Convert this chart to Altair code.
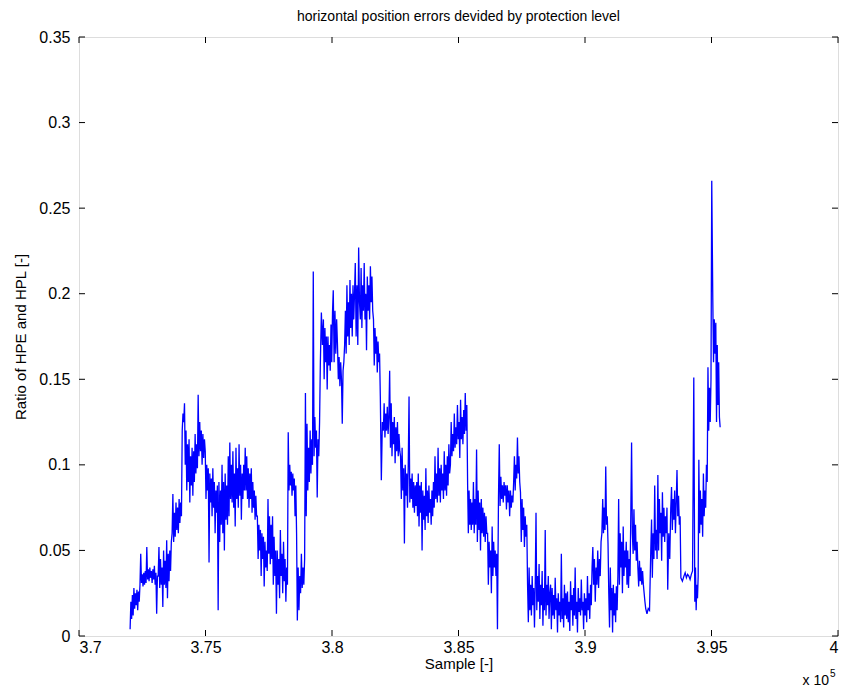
import altair as alt
import numpy as np
import pandas as pd

# Segment boundaries (sample index) and the values read within each segment
seg_bounds = [372020, 372410, 373130, 373680, 374080, 374200, 374710, 374990, 375500, 375900,
              376570, 377050, 377680, 378270, 378630, 378950, 379260, 379540, 379660, 380050,
              380250, 380530, 380920, 381120, 381640, 381910, 382030, 382310, 382710, 383380,
              384010, 384680, 385360, 385590, 386150, 386540, 386580, 387180, 387450, 387730,
              388640, 390340, 390700, 390940, 391330, 391810, 392090, 392400, 392600, 392880,
              393270, 393390, 393790, 393910, 394300, 394340, 394500, 394860, 395010, 395050,
              395170, 395370]

seg_values = [
    [0.004, 0.020, 0.010, 0.024, 0.012, 0.028, 0.016, 0.025, 0.018, 0.027, 0.015, 0.026, 0.020],
    [0.030, 0.048, 0.031, 0.036, 0.029, 0.037, 0.030, 0.038, 0.031, 0.052, 0.033, 0.039, 0.032,
     0.040, 0.034, 0.038, 0.031, 0.039, 0.033, 0.041, 0.030, 0.037, 0.013, 0.035],
    [0.035, 0.052, 0.028, 0.045, 0.030, 0.040, 0.017, 0.050, 0.030, 0.044, 0.028, 0.056, 0.022,
     0.048, 0.032, 0.050, 0.038, 0.055],
    [0.060, 0.083, 0.055, 0.072, 0.058, 0.078, 0.062, 0.075, 0.060, 0.080, 0.066, 0.078, 0.070],
    [0.120, 0.130, 0.125, 0.136],
    [0.100, 0.120, 0.085, 0.112, 0.090, 0.115, 0.078, 0.105, 0.088, 0.110, 0.082, 0.108, 0.090,
     0.118, 0.095, 0.112, 0.098],
    [0.141, 0.105, 0.125, 0.108, 0.120, 0.100, 0.118, 0.104, 0.115],
    [0.108, 0.080, 0.100, 0.085, 0.098, 0.043, 0.095, 0.078, 0.092, 0.070, 0.098, 0.075, 0.090,
     0.060, 0.085, 0.072, 0.088],
    [0.015, 0.090, 0.055, 0.085, 0.065, 0.100, 0.060, 0.090, 0.050, 0.095, 0.068, 0.088, 0.065],
    [0.105, 0.070, 0.113, 0.080, 0.100, 0.078, 0.108, 0.075, 0.095, 0.064, 0.110, 0.080, 0.098,
     0.075, 0.112, 0.082, 0.100, 0.068, 0.095, 0.080, 0.100, 0.085],
    [0.110, 0.085, 0.105, 0.080, 0.098, 0.075, 0.095, 0.080, 0.098, 0.072, 0.090, 0.075, 0.085,
     0.068, 0.082, 0.070],
    [0.070, 0.045, 0.065, 0.050, 0.062, 0.035, 0.060, 0.045, 0.058, 0.029, 0.055, 0.040, 0.050,
     0.038, 0.080, 0.048, 0.070, 0.042, 0.065, 0.045, 0.070],
    [0.030, 0.058, 0.035, 0.050, 0.013, 0.050, 0.030, 0.045, 0.022, 0.062, 0.035, 0.048, 0.025,
     0.055, 0.032, 0.045, 0.020, 0.040, 0.030],
    [0.119, 0.085, 0.100, 0.088, 0.096, 0.082, 0.095, 0.085, 0.092, 0.070, 0.088, 0.060],
    [0.009, 0.040, 0.015, 0.035, 0.025, 0.048, 0.028, 0.040, 0.030, 0.045],
    [0.142, 0.070, 0.124, 0.085, 0.110, 0.090, 0.120, 0.095, 0.115, 0.100],
    [0.213, 0.105, 0.128, 0.110, 0.120, 0.081, 0.115, 0.105, 0.125],
    [0.160, 0.189, 0.170],
    [0.185, 0.150, 0.180, 0.160, 0.175, 0.144, 0.175, 0.158, 0.170, 0.155, 0.182, 0.160, 0.189],
    [0.202, 0.160, 0.190, 0.165, 0.185, 0.170],
    [0.150, 0.163, 0.146, 0.160, 0.150, 0.124, 0.155, 0.160, 0.170],
    [0.190, 0.165, 0.205, 0.175, 0.195, 0.170, 0.208, 0.180, 0.200, 0.175, 0.205, 0.185, 0.200],
    [0.218, 0.175, 0.205, 0.170, 0.227, 0.195],
    [0.185, 0.215, 0.180, 0.205, 0.190, 0.218, 0.185, 0.200, 0.167, 0.210, 0.190, 0.205, 0.185,
     0.216, 0.195, 0.210, 0.190],
    [0.185, 0.158, 0.180, 0.165, 0.175, 0.154, 0.172, 0.160, 0.165],
    [0.140, 0.091, 0.125],
    [0.120, 0.136, 0.116, 0.130, 0.120, 0.134, 0.118, 0.128, 0.155],
    [0.110, 0.136, 0.105, 0.125, 0.112, 0.128, 0.101, 0.122, 0.108, 0.125, 0.105, 0.118, 0.108],
    [0.105, 0.080, 0.110, 0.085, 0.098, 0.054, 0.100, 0.082, 0.095, 0.075, 0.100, 0.140, 0.078,
     0.092, 0.080, 0.095, 0.075, 0.090, 0.072, 0.088, 0.076, 0.090],
    [0.070, 0.095, 0.064, 0.088, 0.072, 0.090, 0.050, 0.085, 0.068, 0.082, 0.062, 0.098, 0.070,
     0.085, 0.066, 0.088, 0.072, 0.080, 0.065, 0.085, 0.070],
    [0.090, 0.075, 0.105, 0.080, 0.095, 0.078, 0.110, 0.082, 0.098, 0.078, 0.100, 0.085, 0.095,
     0.080, 0.108, 0.085, 0.100, 0.082, 0.105, 0.088, 0.112, 0.095],
    [0.100, 0.125, 0.105, 0.118, 0.108, 0.130, 0.110, 0.122, 0.112, 0.135, 0.115, 0.125, 0.104,
     0.138, 0.115, 0.128, 0.112, 0.132, 0.118, 0.142, 0.120, 0.135],
    [0.089, 0.060, 0.085, 0.065, 0.080, 0.062, 0.078, 0.065],
    [0.090, 0.060, 0.080, 0.065, 0.109, 0.055, 0.085, 0.062, 0.078, 0.050, 0.080, 0.060, 0.075,
     0.058, 0.072, 0.055, 0.070, 0.060],
    [0.060, 0.030, 0.055, 0.040, 0.050, 0.025, 0.064, 0.035, 0.055, 0.040, 0.050, 0.035, 0.048],
    [0.004],
    [0.080, 0.112, 0.076, 0.093, 0.080, 0.088, 0.078, 0.090, 0.082, 0.088, 0.074, 0.088, 0.078,
     0.085, 0.070, 0.085, 0.075, 0.082, 0.078],
    [0.090, 0.105, 0.085, 0.100, 0.092, 0.116, 0.095, 0.105, 0.090],
    [0.084, 0.055, 0.080, 0.062, 0.075, 0.052, 0.070, 0.058, 0.065],
    [0.030, 0.008, 0.040, 0.015, 0.030, 0.012, 0.035, 0.018, 0.028, 0.005, 0.030, 0.072, 0.015,
     0.035, 0.020, 0.042, 0.010, 0.030, 0.018, 0.038, 0.006, 0.028, 0.015, 0.062, 0.012, 0.030,
     0.018, 0.035, 0.010, 0.025],
    [0.030, 0.004, 0.028, 0.012, 0.024, 0.010, 0.034, 0.015, 0.022, 0.002, 0.025, 0.012, 0.020,
     0.008, 0.048, 0.010, 0.022, 0.005, 0.030, 0.012, 0.025, 0.010, 0.026, 0.008, 0.020, 0.003,
     0.032, 0.015, 0.024, 0.006, 0.028, 0.012, 0.040, 0.010, 0.020, 0.002, 0.028, 0.014, 0.022,
     0.012, 0.033, 0.015, 0.020, 0.004, 0.025, 0.012, 0.022, 0.008, 0.035, 0.015, 0.025, 0.010,
     0.030, 0.018, 0.040, 0.052],
    [0.030, 0.045, 0.020, 0.040, 0.030, 0.050, 0.028, 0.045, 0.035, 0.055, 0.060],
    [0.080, 0.060, 0.075, 0.062, 0.099, 0.065, 0.070, 0.054],
    [0.025, 0.005, 0.040, 0.015, 0.028, 0.002, 0.030, 0.012, 0.025, 0.008, 0.029, 0.015, 0.035],
    [0.080, 0.030, 0.060, 0.040, 0.055, 0.025, 0.064, 0.035, 0.050, 0.040, 0.055, 0.030, 0.050,
     0.028, 0.045, 0.035],
    [0.070, 0.113, 0.060, 0.048, 0.074, 0.050, 0.065, 0.044, 0.055],
    [0.040, 0.029, 0.044, 0.032, 0.040, 0.030, 0.038, 0.030, 0.025, 0.020],
    [0.016, 0.013, 0.016, 0.015],
    [0.050, 0.068, 0.034, 0.060, 0.045, 0.088, 0.050, 0.062, 0.045],
    [0.094, 0.050, 0.080, 0.060, 0.072, 0.044, 0.084, 0.058, 0.075, 0.055, 0.070, 0.060, 0.075],
    [0.027, 0.060, 0.045],
    [0.075, 0.087, 0.062, 0.080, 0.068, 0.085, 0.060, 0.078, 0.097, 0.070, 0.082, 0.065, 0.070],
    [0.034, 0.032],
    [0.035, 0.037, 0.034, 0.036, 0.035, 0.033, 0.036, 0.038],
    [0.151],
    [0.020, 0.040, 0.015, 0.030, 0.022, 0.035],
    [0.103, 0.060, 0.085, 0.065, 0.080, 0.058, 0.095, 0.070, 0.085, 0.075, 0.100, 0.090],
    [0.157, 0.120, 0.145, 0.125, 0.150],
    [0.266],
    [0.198, 0.160, 0.185, 0.165],
    [0.183, 0.125, 0.170, 0.135, 0.160, 0.128, 0.122],
]

x_ticks = [370000, 375000, 380000, 385000, 390000, 395000, 400000]
y_ticks = [0, 0.05, 0.1, 0.15, 0.2, 0.25, 0.3, 0.35]

xs, ys = [], []
for i, vals in enumerate(seg_values):
    xs.extend(np.linspace(seg_bounds[i], seg_bounds[i + 1], len(vals), endpoint=False))
    ys.extend(vals)
df = pd.DataFrame({"sample": xs, "ratio": ys, "order": range(len(xs))})

W, H = 759, 599
FONT = "Liberation Sans"

xscale = alt.Scale(domain=[370000, 400000], nice=False, zero=False)
yscale = alt.Scale(domain=[0, 0.35], nice=False, zero=True)

line = alt.Chart(df).mark_line(color="#0000ff", strokeWidth=1.3, clip=True).encode(
    x=alt.X("sample:Q", scale=xscale, title="Sample [-]",
            axis=alt.Axis(values=x_ticks, labelExpr="format(datum.value/100000, '~g')",
                          ticks=False, domain=False, grid=False, labelPadding=3,
                          labelFontSize=16, titleFontSize=15, titlePadding=1,
                          titleFontWeight="normal")),
    y=alt.Y("ratio:Q", scale=yscale, title="Ratio of HPE and HPL [-]",
            axis=alt.Axis(values=y_ticks, format="~g", ticks=False, domain=False, grid=False,
                          labelPadding=9, labelFontSize=16, titleFontSize=15, titlePadding=10,
                          titleFontWeight="normal")),
    order="order:Q",
)

xt = pd.DataFrame({"v": x_ticks})
yt = pd.DataFrame({"v": y_ticks})
TL = 6
xtick_bot = alt.Chart(xt).mark_rule(color="black", strokeWidth=1).encode(
    x=alt.X("v:Q", scale=xscale), y=alt.value(H), y2=alt.value(H - TL))
xtick_top = alt.Chart(xt).mark_rule(color="black", strokeWidth=1).encode(
    x=alt.X("v:Q", scale=xscale), y=alt.value(0), y2=alt.value(TL))
ytick_l = alt.Chart(yt).mark_rule(color="black", strokeWidth=1).encode(
    y=alt.Y("v:Q", scale=yscale), x=alt.value(0), x2=alt.value(TL))
ytick_r = alt.Chart(yt).mark_rule(color="black", strokeWidth=1).encode(
    y=alt.Y("v:Q", scale=yscale), x=alt.value(W - TL), x2=alt.value(W))

exp_base = alt.Chart(pd.DataFrame({"t": ["x 10"]})).mark_text(
    font=FONT, fontSize=14, align="right", baseline="middle", color="black").encode(
    text="t:N", x=alt.value(W - 9), y=alt.value(H + 45))
exp_sup = alt.Chart(pd.DataFrame({"t": ["5"]})).mark_text(
    font=FONT, fontSize=10, align="left", baseline="middle", color="black").encode(
    text="t:N", x=alt.value(W - 8), y=alt.value(H + 38))

chart = alt.layer(line, xtick_bot, xtick_top, ytick_l, ytick_r, exp_base, exp_sup).properties(
    width=W, height=H,
    title=alt.TitleParams("horizontal position errors devided by protection level",
                          font=FONT, fontSize=14, fontWeight="normal", anchor="middle",
                          offset=5, color="black"),
    autosize=alt.AutoSizeParams(type="none"),
    padding={"left": 71, "top": 29, "right": 1, "bottom": 55},
).configure_view(stroke="black", strokeWidth=1).configure_axis(
    labelFont=FONT, titleFont=FONT, labelColor="black", titleColor="black"
).configure(background="white")

chart.save("out.html", embed_options={"renderer": "svg", "actions": False})
